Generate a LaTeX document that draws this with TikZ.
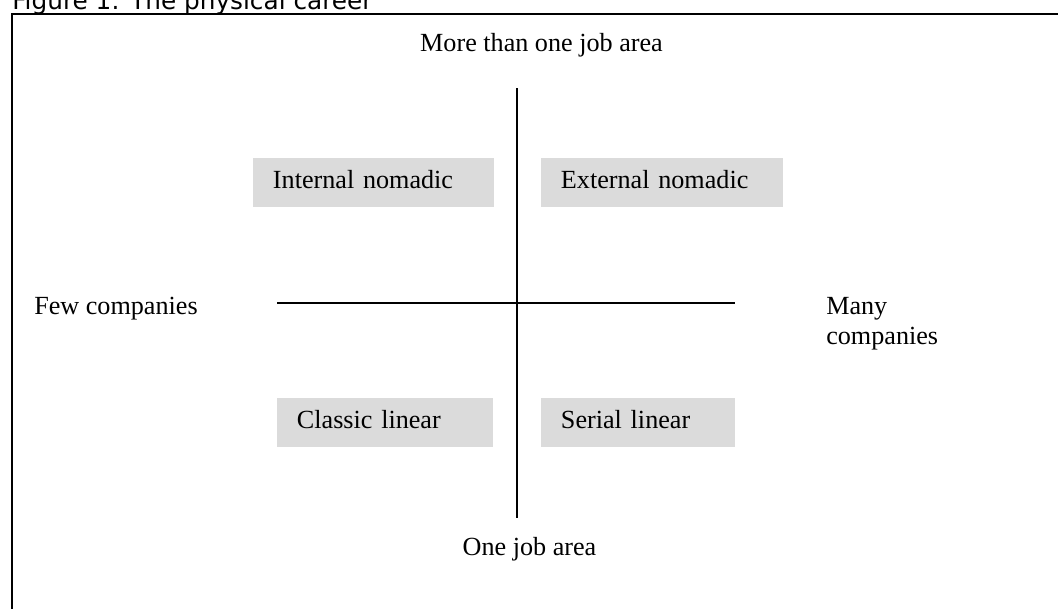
\documentclass[tikz,border=0pt]{standalone}
\usepackage{fontspec}
\setmainfont{Liberation Serif}
\newfontfamily\captionfont{DejaVu Sans}
\usepackage{tikz}
\definecolor{quadgray}{RGB}{219,219,219}
% one shaded quadrant label: name, centre, width, text width, text
\def\Quadrant#1#2#3#4#5{%
 \node[quadrant box, minimum width=#3, text width=#4] (#1) at (#2) {#5};
}
\tikzset{x=0.025cm, y=-0.025cm,
  axis label/.style={font=\fontsize{18.6}{21.3}\selectfont, inner sep=0pt},
  quadrant box/.style={fill=quadgray, draw=none, align=left,
        font=\fontsize{18.6}{21.3}\selectfont,
        minimum height=1.225cm, inner xsep=0.5cm, inner ysep=0pt,
        text height=0.8em, text depth=0pt},
  axis line/.style={draw=black, line width=1.4pt}
  }

\begin{document}
\begin{tikzpicture}
\useasboundingbox (0,0) rectangle (1058,608);
\clip (0,0) rectangle (1058,608);
% caption and frame
\node[anchor=base west, inner sep=0pt, font=\captionfont\fontsize{17.6}{20}\selectfont]
  (caption) at (12,9) {Figure 1: The physical career};
\draw[line width=1.4pt] (12,14) rectangle (1075,625);

% axes
\coordinate (axis top) at (517,88);
\coordinate (axis bottom) at (517,518);
\coordinate (axis left) at (277,303);
\coordinate (axis right) at (735,303);
\draw[axis line] (axis top) -- (axis bottom);
\draw[axis line] (axis left) -- (axis right);

% axis labels
\node[axis label, anchor=base] (many areas) at (541.5,51) {More than one job area};
\node[axis label, anchor=base] (one area) at (529.5,555) {One job area};
\node[axis label, anchor=base west] (few) at (34,314) {Few companies};
\node[axis label, anchor=north west, align=left] (many) at (826,297.5) {Many\\companies};

% quadrants
\Quadrant{internal}{373.5,182.5}{6.025cm}{5.025cm}{Internal nomadic}
\Quadrant{external}{662,182.5}{6.05cm}{5.05cm}{External nomadic}
\Quadrant{classic}{385,422.5}{5.4cm}{4.4cm}{Classic linear}
\Quadrant{serial}{638,422.5}{4.85cm}{3.85cm}{Serial linear}
\end{tikzpicture}
\end{document}
